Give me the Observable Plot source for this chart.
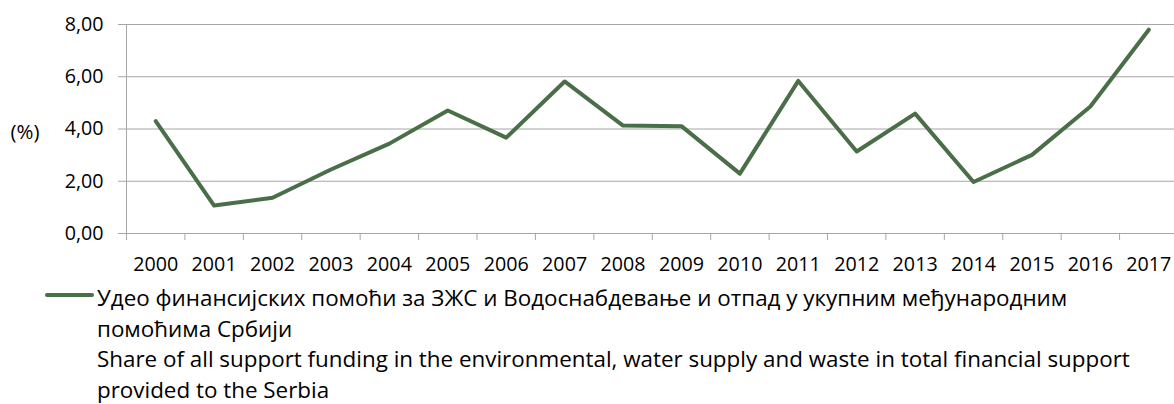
<!DOCTYPE html>
<html>
<head>
<meta charset="utf-8">
<script src="https://cdn.jsdelivr.net/npm/d3@7"></script>
<script src="https://cdn.jsdelivr.net/npm/@observablehq/plot@0.6"></script>
<style>
  html, body { margin: 0; padding: 0; background: #fff; }
  body { width: 1174px; height: 404px; overflow: hidden; font-family: "Open Sans", sans-serif; }
  #legend { display: flex; font-size: 22.4px; line-height: 30.7px; color: #000; }
  #legend .sw { width: 97px; flex: none; position: relative; }
  #legend .sw span { position: absolute; left: 45px; width: 49px; height: 4px; top: 10px; border-radius: 2px; }
  #legend .txt div { white-space: nowrap; }
</style>
</head>
<body>
<div id="chart"></div>
<div id="legend"><div class="sw"><span></span></div><div class="txt"></div></div>
<script>
const years = [2000, 2001, 2002, 2003, 2004, 2005, 2006, 2007, 2008, 2009, 2010, 2011, 2012, 2013, 2014, 2015, 2016, 2017];
const shares = [4.30, 1.07, 1.37, 2.45, 3.44, 4.71, 3.67, 5.82, 4.13, 4.11, 2.29, 5.84, 3.14, 4.59, 1.97, 3.01, 4.86, 7.80];
const yTicks = [0, 2, 4, 6, 8];
const yUnit = "(%)";
const seriesLabelSr = ["Удео финансијских помоћи за ЗЖС и Водоснабдевање и отпад у укупним међународним", "помоћима Србији"];
const seriesLabelEn = ["Share of all support funding in the environmental, water supply and waste in total financial support", "provided to the Serbia"];

const lineColor = "#4a6e48";
const gray = "#a6a6a6";
const data = years.map((year, i) => ({year, share: shares[i]}));
const boundaries = years.map(y => y - 0.5);

const chart = Plot.plot({
  width: 1174,
  height: 283,
  marginLeft: 126,
  marginRight: 0,
  marginTop: 24,
  marginBottom: 50,
  style: {fontFamily: "Open Sans", fontSize: "19.7px", color: "#000", background: "#fff", overflow: "visible"},
  x: {type: "linear", domain: [1999.5, 2017.44]},
  y: {domain: [0, 8]},
  marks: [
    Plot.gridY(yTicks, {stroke: gray, strokeOpacity: 1, strokeWidth: 1}),
    Plot.ruleX([1999.5], {stroke: gray, strokeWidth: 1}),
    Plot.axisY(yTicks, {tickSize: 8, tickPadding: 15, stroke: gray, strokeOpacity: 1, fill: "#000",
      tickFormat: d => d.toFixed(2).replace(".", ","), label: null}),
    Plot.axisX(boundaries, {tickSize: 7, stroke: gray, strokeOpacity: 1, tickFormat: () => "", label: null}),
    Plot.axisX(years, {tickSize: 0, tickPadding: 23, fill: "#000", tickFormat: d => String(d), label: null}),
    Plot.lineY(data, {x: "year", y: "share", stroke: lineColor, strokeWidth: 4, strokeLinejoin: "round", strokeLinecap: "round"}),
    Plot.text([yUnit], {frameAnchor: "left", dx: -116, dy: 3, textAnchor: "start", fill: "#000", fontSize: 20.5})
  ]
});
document.getElementById("chart").appendChild(chart);

document.querySelector("#legend .sw span").style.background = lineColor;
const txt = document.querySelector("#legend .txt");
[...seriesLabelSr, ...seriesLabelEn].forEach(line => {
  const d = document.createElement("div");
  d.textContent = line;
  txt.appendChild(d);
});
</script>
</body>
</html>
